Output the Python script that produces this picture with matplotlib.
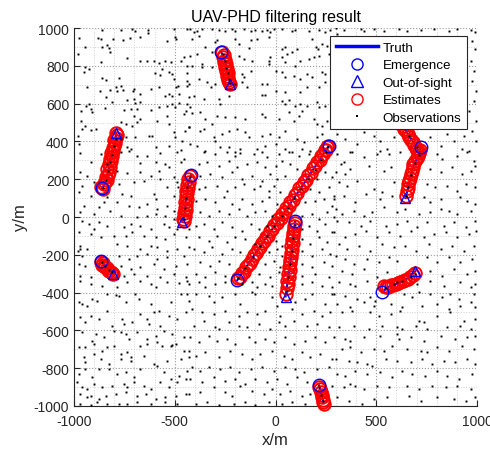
import matplotlib
matplotlib.use("Agg")
import matplotlib.pyplot as plt
from matplotlib.lines import Line2D
from matplotlib.ticker import MultipleLocator
import numpy as np

plt.rcParams["font.family"] = ["Liberation Sans", "DejaVu Sans"]
plt.rcParams["axes.unicode_minus"] = False

# clutter observations (x, y in metres)
clutter = [
    (-860, 989), (-769, 989), (-711, 995), (-698, 982), (-633, 989), (-633, 972), (-504, 995), (-499, 954),
    (-438, 995), (-976, 947), (-882, 947), (-868, 942), (-805, 942), (-756, 936), (-723, 947), (-670, 950),
    (-537, 929), (-496, 942), (-943, 901), (-863, 898), (-835, 912), (-827, 894), (-822, 871), (-979, 862),
    (-739, 841), (-670, 823), (-640, 823), (-604, 823), (-579, 813), (-546, 823), (-521, 818), (-471, 823),
    (-455, 848), (-868, 818), (-438, 801), (-943, 795), (-926, 783), (-948, 769), (-562, 783), (-599, 760),
    (-571, 753), (-529, 765), (-513, 756), (-438, 760), (-860, 733), (-843, 725), (-777, 735), (-934, 689),
    (-872, 665), (-794, 686), (-769, 695), (-819, 672), (-786, 665), (-756, 672), (-706, 665), (-670, 653),
    (-620, 679), (-579, 688), (-546, 642), (-529, 651), (-513, 642), (-480, 651), (-485, 695), (-438, 695),
    (-438, 721), (-504, 730), (-496, 689), (-703, 677), (-843, 636), (-810, 606), (-736, 619), (-703, 624),
    (-695, 601), (-673, 610), (-926, 598), (-918, 571), (-938, 589), (-910, 554), (-967, 562), (-848, 576),
    (-753, 566), (-719, 571), (-686, 571), (-620, 566), (-579, 580), (-537, 589), (-513, 598), (-499, 580),
    (-480, 601), (-455, 545), (-446, 562), (-438, 598), (-703, 536), (-670, 518), (-686, 501), (-769, 501),
    (-744, 492), (-711, 483), (-967, 509), (-959, 465), (-943, 483), (-918, 460), (-893, 465), (-587, 509),
    (-537, 536), (-529, 492), (-504, 448), (-501, 421), (-451, 456), (-430, 474), (-979, 428), (-976, 386),
    (-769, 412), (-744, 421), (-695, 421), (-736, 369), (-719, 361), (-628, 428), (-612, 428), (-595, 369),
    (-529, 378), (-463, 404), (-471, 352),
    (-422, 995), (-406, 977), (-389, 986), (-381, 959), (-364, 995), (-315, 995), (-282, 989), (-252, 982),
    (-215, 995), (-199, 986), (-158, 995), (-124, 982), (-100, 989), (-67, 986), (-42, 989), (-25, 977),
    (-9, 995), (33, 995), (82, 982), (96, 989), (165, 986), (215, 989), (248, 977), (272, 989),
    (-414, 942), (-348, 898), (-298, 924), (-290, 936), (-199, 942), (-182, 915), (-133, 894), (-124, 936),
    (-91, 942), (-33, 950), (33, 889), (49, 901), (57, 862), (82, 871), (107, 889), (182, 942),
    (201, 901), (211, 889), (231, 915), (256, 906), (-422, 853), (-389, 862), (-315, 871), (-182, 853),
    (-158, 836), (-116, 827), (-33, 827), (-25, 845), (33, 845), (49, 818), (99, 801), (124, 827),
    (165, 836), (190, 845), (215, 853), (264, 862), (-414, 801), (-364, 809), (-364, 795), (-315, 792),
    (-166, 756), (-158, 739), (-124, 774), (-33, 809), (0, 774), (33, 765), (49, 742), (91, 748),
    (124, 730), (157, 756), (182, 739), (231, 765), (248, 756), (-430, 703), (-381, 730), (-339, 712),
    (-318, 686), (-298, 703), (-199, 703), (-166, 712), (-141, 686), (-67, 703), (-42, 703), (0, 668),
    (49, 659), (124, 659), (157, 686), (215, 686), (248, 712), (281, 668), (-430, 633), (-406, 642),
    (-356, 624), (-282, 624), (-273, 598), (-232, 642), (-67, 647), (-50, 647), (33, 615), (49, 598),
    (66, 619), (99, 589), (124, 598), (157, 589), (206, 606), (215, 580), (248, 589), (281, 562),
    (-422, 580), (-414, 548), (-373, 554), (-348, 518), (-315, 492), (-290, 536), (-249, 527), (-199, 527),
    (-149, 518), (-67, 545), (-50, 527), (16, 518), (66, 554), (91, 509), (115, 536), (132, 562),
    (190, 518), (206, 492), (231, 483), (256, 509), (-430, 474), (-373, 456), (-356, 465), (-306, 421),
    (-265, 439), (-232, 456), (-191, 465), (-149, 448), (-133, 421), (-67, 430), (-25, 439), (16, 421),
    (49, 456), (107, 412), (140, 395), (206, 421), (231, 439), (-422, 386), (-389, 377), (-348, 351),
    (-298, 404), (-273, 368), (-232, 368), (-199, 342), (-174, 361), (-91, 361), (-50, 377), (0, 386),
    (49, 361), (82, 342), (132, 361), (173, 351),
    (298, 1000), (339, 989), (422, 995), (438, 982), (488, 995), (538, 986), (612, 995), (653, 982),
    (720, 989), (786, 995), (860, 986), (901, 995), (968, 989), (990, 977), (306, 968), (976, 933),
    (990, 889), (968, 827), (985, 774), (976, 721), (995, 668), (984, 615), (959, 562), (995, 509),
    (976, 456), (995, 404), (959, 351), (306, 439), (347, 412), (405, 386), (438, 448), (488, 430),
    (521, 404), (554, 359), (587, 421), (769, 421), (819, 377), (852, 439), (885, 404), (935, 430),
    (926, 359), (372, 342), (505, 333), (278, 880), (281, 668),
    (-968, 339), (-868, 334), (-769, 342), (-728, 351), (-686, 325), (-637, 321), (-571, 339), (-488, 342),
    (-455, 307), (-918, 289), (-835, 281), (-670, 286), (-595, 289), (-546, 281), (-529, 263), (-471, 289),
    (-971, 237), (-934, 219), (-786, 245), (-736, 233), (-670, 237), (-620, 219), (-579, 245), (-504, 210),
    (-959, 166), (-901, 184), (-777, 175), (-703, 184), (-653, 192), (-571, 201), (-537, 157), (-488, 184),
    (-485, 157), (-976, 131), (-918, 113), (-835, 104), (-761, 122), (-719, 113), (-604, 122), (-595, 95),
    (-504, 113), (-951, 60), (-877, 51), (-852, 78), (-786, 78), (-728, 60), (-678, 51), (-637, 69),
    (-587, 42), (-537, 60), (-504, 34), (-968, 25), (-901, 16), (-819, 34), (-769, 7), (-686, -2),
    (-637, 7), (-595, 16), (-546, 7), (-504, -10), (-959, -19), (-926, -37), (-901, -63), (-877, -28),
    (-835, -46), (-753, -55), (-719, -37), (-670, -46), (-620, -63), (-554, -37), (-529, -55), (-488, -63),
    (-430, -63), (-976, -81), (-918, -90), (-868, -107), (-802, -99), (-744, -99), (-711, -81), (-653, -99),
    (-595, -107), (-546, -116), (-504, -90), (-446, -107), (-968, -152), (-934, -169), (-786, -143), (-736, -152),
    (-670, -169), (-620, -152), (-587, -160), (-537, -178), (-488, -169), (-430, -160), (-981, -178), (-971, -169),
    (-959, -204), (-777, -204), (-728, -222), (-686, -204), (-637, -196), (-587, -222), (-537, -213), (-455, -204),
    (-976, -249), (-943, -257), (-769, -257), (-719, -275), (-670, -266), (-604, -249), (-554, -275), (-496, -257),
    (-438, -249), (-968, -310), (-918, -319), (-753, -310), (-703, -302), (-637, -310), (-571, -319), (-504, -302),
    (-446, -319),
    (-356, 342), (-298, 334), (-240, 346), (-199, 325), (-174, 339), (-108, 334), (-67, 342), (-42, 316),
    (16, 334), (66, 342), (115, 325), (165, 334), (-381, 281), (-339, 289), (-282, 272), (-232, 298),
    (-191, 263), (-141, 281), (-91, 289), (-50, 263), (0, 272), (33, 298), (74, 281), (107, 254),
    (-373, 219), (-323, 228), (-265, 210), (-215, 237), (-166, 201), (-116, 219), (-67, 192), (-25, 228),
    (8, 201), (49, 219), (206, 201), (248, 237), (281, 210), (-381, 148), (-348, 157), (-290, 166),
    (-240, 140), (-199, 157), (-158, 175), (-108, 148), (-75, 166), (-33, 140), (-9, 166), (24, 131),
    (173, 148), (215, 131), (264, 157), (289, 113), (-397, 87), (-348, 95), (-298, 78), (-257, 104),
    (-215, 69), (-166, 95), (-116, 69), (-67, 87), (-33, 104), (8, 69), (148, 78), (198, 87),
    (239, 95), (281, 60), (-373, 25), (-331, 7), (-282, 34), (-232, 16), (-182, 42), (-141, 7),
    (-100, 25), (-50, 34), (-17, 7), (132, 7), (182, 16), (215, -10), (256, 25), (289, -2),
    (-397, -46), (-356, -37), (-306, -63), (-265, -28), (-215, -55), (-166, -72), (-124, -37), (-83, -63),
    (-42, -46), (132, -63), (165, -46), (206, -72), (248, -37), (281, -81), (-381, -107), (-331, -125),
    (-290, -99), (-240, -134), (-199, -107), (-149, -116), (-100, -143), (0, -125), (33, -152), (132, -116),
    (173, -143), (215, -107), (256, -134), (-406, -169), (-356, -187), (-315, -160), (-265, -196), (-215, -169),
    (-174, -187), (-33, -187), (8, -169), (33, -204), (132, -178), (182, -204), (231, -169), (272, -196),
    (-373, -240), (-323, -257), (-282, -231), (-232, -249), (-50, -249), (-9, -231), (24, -266), (132, -249),
    (182, -266), (239, -240), (281, -257), (-397, -302), (-348, -319), (-298, -293), (-249, -310), (-83, -302),
    (-25, -319), (16, -293), (132, -310), (198, -302), (264, -319),
    (306, 334), (339, 289), (323, 281), (381, 342), (438, 316), (521, 351), (562, 334), (620, 342),
    (802, 334), (827, 307), (902, 325), (951, 342), (984, 298), (298, 237), (347, 228), (372, 254),
    (463, 272), (538, 245), (571, 263), (769, 254), (819, 237), (877, 263), (926, 228), (968, 245),
    (992, 272), (314, 184), (356, 166), (405, 192), (488, 148), (529, 131), (587, 184), (753, 175),
    (794, 157), (852, 166), (902, 140), (943, 175), (992, 157), (290, 95), (339, 113), (397, 78),
    (447, 122), (521, 95), (579, 113), (736, 104), (769, 78), (819, 95), (860, 34), (918, 104),
    (951, 87), (992, 69), (298, 42), (331, 16), (389, 34), (438, 7), (480, 25), (538, 51),
    (604, 25), (645, 42), (711, 16), (769, 25), (819, 42), (902, 16), (968, 34), (306, -19),
    (364, -28), (422, -46), (471, -19), (546, -46), (604, -37), (653, -19), (703, -55), (753, -28),
    (835, -46), (885, -28), (943, -55), (992, -19), (290, -81), (347, -107), (397, -90), (447, -72),
    (505, -107), (562, -81), (620, -99), (670, -72), (736, -107), (786, -90), (844, -81), (902, -107),
    (959, -90), (995, -72), (314, -143), (356, -169), (414, -152), (471, -178), (529, -143), (587, -160),
    (645, -152), (695, -178), (761, -143), (819, -169), (877, -152), (935, -178), (984, -152), (298, -204),
    (347, -222), (389, -249), (455, -222), (513, -240), (562, -213), (604, -231), (753, -213), (802, -240),
    (860, -213), (918, -240), (976, -222), (331, -284), (381, -302), (438, -275), (505, -319), (554, -293),
    (769, -284), (827, -310), (885, -275), (951, -302), (992, -284),
    (-968, -337), (-918, -354), (-860, -363), (-786, -372), (-736, -346), (-670, -337), (-620, -354), (-595, -372),
    (-537, -346), (-480, -349), (-438, -337), (-976, -451), (-959, -460), (-934, -469), (-910, -434), (-885, -443),
    (-835, -407), (-794, -413), (-777, -416), (-744, -451), (-695, -407), (-678, -434), (-620, -460), (-604, -504),
    (-579, -496), (-521, -451), (-471, -407), (-438, -407), (-430, -443), (-968, -531), (-943, -557), (-918, -522),
    (-877, -540), (-835, -496), (-761, -540), (-753, -566), (-711, -557), (-670, -513), (-637, -540), (-628, -566),
    (-571, -575), (-529, -522), (-488, -540), (-446, -504), (-959, -610), (-910, -654), (-893, -619), (-852, -637),
    (-810, -575), (-802, -601), (-769, -610), (-744, -619), (-728, -646), (-686, -610), (-637, -646), (-595, -628),
    (-554, -601), (-513, -619), (-455, -637), (-976, -690), (-943, -690), (-901, -672), (-860, -707), (-835, -690),
    (-802, -681), (-769, -725), (-736, -716), (-719, -743), (-670, -681), (-637, -672), (-587, -663), (-562, -681),
    (-521, -681), (-513, -677), (-496, -672), (-455, -707), (-951, -743), (-943, -765), (-901, -725), (-868, -751),
    (-827, -778), (-769, -751), (-719, -760), (-653, -734), (-604, -778), (-537, -760), (-471, -751), (-430, -743),
    (-976, -831), (-943, -804), (-910, -848), (-877, -804), (-827, -804), (-786, -831), (-744, -822), (-703, -848),
    (-670, -804), (-587, -787), (-554, -822), (-521, -857), (-480, -840), (-438, -813), (-984, -875), (-959, -901),
    (-934, -910), (-901, -884), (-860, -901), (-810, -892), (-753, -884), (-736, -901), (-703, -875), (-653, -892),
    (-620, -910), (-571, -875), (-529, -901), (-488, -875), (-446, -857), (-968, -937), (-934, -954), (-918, -945),
    (-877, -963), (-843, -945), (-794, -937), (-744, -928), (-686, -945), (-645, -937), (-595, -963), (-546, -954),
    (-496, -945), (-446, -937), (-968, -990), (-918, -995), (-885, -981), (-835, -990), (-777, -990), (-736, -990),
    (-686, -981), (-620, -990), (-546, -981), (-488, -990),
    (-430, -354), (-381, -346), (-348, -372), (-298, -354), (-249, -346), (-166, -354), (-116, -346), (-91, -372),
    (-50, -354), (-17, -363), (132, -354), (182, -346), (231, -363), (281, -372), (-397, -407), (-331, -416),
    (-306, -451), (-265, -425), (-199, -407), (-174, -460), (-116, -399), (-100, -407), (-17, -425), (8, -469),
    (99, -451), (148, -434), (182, -407), (248, -460), (281, -407), (-414, -487), (-364, -504), (-306, -513),
    (-249, -496), (-182, -522), (-141, -504), (-91, -513), (-50, -496), (24, -522), (82, -487), (132, -513),
    (190, -496), (231, -522), (272, -504), (-406, -575), (-356, -549), (-298, -584), (-282, -593), (-232, -557),
    (-182, -575), (-141, -584), (-83, -566), (-25, -593), (16, -557), (49, -575), (91, -549), (157, -575),
    (206, -566), (264, -584), (-422, -637), (-381, -663), (-331, -628), (-290, -654), (-240, -646), (-199, -672),
    (-133, -637), (-100, -663), (-50, -646), (-9, -663), (49, -637), (91, -672), (148, -654), (198, -637),
    (248, -663), (-430, -707), (-397, -734), (-348, -716), (-282, -743), (-224, -707), (-166, -725), (-116, -751),
    (-75, -725), (-17, -707), (41, -734), (82, -751), (132, -716), (173, -743), (223, -725), (281, -751),
    (-414, -795), (-373, -813), (-331, -795), (-273, -804), (-224, -795), (-182, -822), (-124, -804), (-67, -795),
    (-9, -813), (49, -795), (99, -804), (140, -822), (206, -804), (264, -795), (-422, -857), (-364, -875),
    (-306, -848), (-249, -866), (-199, -857), (-149, -884), (-100, -857), (-42, -875), (8, -857), (57, -884),
    (107, -848), (157, -875), (-430, -937), (-373, -928), (-306, -901), (-249, -928), (-215, -945), (-174, -892),
    (-116, -919), (-58, -937), (-17, -910), (24, -937), (74, -919), (132, -945), (173, -937), (-397, -990),
    (-339, -981), (-282, -995), (-207, -990), (-149, -981), (-100, -995), (-33, -981), (33, -990), (82, -981),
    (148, -990),
    (314, -346), (372, -354), (397, -363), (455, -337), (604, -346), (703, -354), (769, -337), (835, -363),
    (918, -346), (968, -372), (992, -354), (290, -407), (347, -416), (405, -434), (471, -425), (496, -443),
    (637, -407), (678, -425), (711, -399), (769, -407), (827, -425), (868, -407), (910, -434), (984, -407),
    (306, -460), (372, -478), (438, -451), (488, -469), (571, -460), (629, -478), (728, -469), (802, -460),
    (860, -487), (918, -469), (968, -451), (992, -478), (331, -504), (381, -496), (471, -504), (513, -522),
    (571, -513), (620, -496), (711, -549), (736, -557), (802, -522), (868, -504), (935, -549), (992, -540),
    (314, -584), (389, -575), (463, -593), (529, -575), (604, -584), (629, -593), (695, -575), (753, -593),
    (852, -584), (918, -575), (968, -593), (290, -637), (347, -646), (372, -654), (438, -637), (521, -628),
    (604, -619), (612, -646), (670, -637), (736, -654), (819, -628), (893, -646), (951, -637), (992, -628),
    (331, -698), (372, -690), (422, -716), (488, -698), (538, -707), (579, -681), (653, -698), (720, -707),
    (753, -716), (802, -690), (860, -707), (926, -681), (984, -698), (298, -751), (364, -760), (405, -769),
    (455, -778), (480, -787), (546, -751), (604, -760), (670, -769), (728, -751), (777, -778), (835, -760),
    (893, -769), (951, -751), (992, -778), (306, -831), (347, -840), (397, -813), (455, -831), (521, -822),
    (579, -848), (629, -813), (678, -831), (744, -840), (802, -813), (852, -840), (910, -857), (976, -831),
    (281, -892), (339, -901), (372, -884), (397, -892), (438, -910), (505, -892), (562, -901), (653, -892),
    (711, -910), (777, -892), (844, -901), (902, -892), (968, -910), (306, -954), (364, -972), (430, -990),
    (488, -963), (554, -954), (662, -945), (720, -972), (802, -954), (885, -963), (943, -972), (992, -954),
]

# target-originated observations along the tracks
track_obs = [
    (-262, 860), (-252, 825), (-244, 790), (-238, 760), (-232, 730), (-226, 710),
    (-858, 155), (-842, 195), (-830, 245), (-822, 290), (-812, 330), (-800, 375), (-794, 415),
    (-425, 210), (-438, 160), (-444, 100), (-447, 45), (-455, -10),
    (-862, -240), (-845, -260), (-825, -280), (-810, -292),
    (-185, -325), (-150, -272), (-110, -210), (-75, -155), (-40, -100), (-5, -48), (30, 5), (60, 50),
    (90, 100), (125, 150), (160, 200), (195, 250), (225, 300), (250, 345), (262, 368),
    (95, -40), (87, -110), (80, -180), (72, -250), (64, -320), (56, -390),
    (630, 480), (665, 430), (700, 370), (712, 330), (690, 285), (672, 220), (660, 160), (648, 110),
    (545, -375), (590, -355), (630, -340), (670, -318), (690, -300),
    (218, -900), (228, -940), (236, -975),
]

# ground truth tracks (waypoints)
truth_tracks = [
    [(-268, 870), (-252, 830), (-242, 780), (-232, 735), (-225, 705)],
    [(-860, 150), (-840, 190), (-828, 250), (-818, 310), (-802, 360), (-795, 400), (-790, 440)],
    [(-420, 220), (-435, 170), (-442, 110), (-448, 50), (-455, -5), (-464, -25)],
    [(-868, -235), (-850, -255), (-830, -275), (-808, -297)],
    [(-190, -335), (-60, -130), (40, 20), (140, 175), (265, 378)],
    [(97, -22), (88, -100), (78, -200), (66, -300), (50, -420)],
    [(620, 505), (650, 450), (685, 395), (712, 345)],
    [(723, 369), (708, 320), (685, 275), (668, 200), (655, 140), (645, 100)],
    [(531, -397), (560, -370), (610, -350), (655, -325), (693, -288)],
    [(215, -890), (228, -935), (238, -985)],
]

emergence = [(-268, 872), (-860, 152), (-418, 222), (-868, -233), (-190, -335),
             (265, 378), (99, -19), (723, 369), (531, -397), (215, -889)]
out_of_sight = [(-225, 703), (-790, 442), (-466, -26), (-806, -300), (50, -422),
                (645, 99), (693, -284)]

est_x = [
    -265, -258, -262, -252, -256, -247, -250, -243, -246, -238, -241, -234, -236, -230, -228,
    -858, -866, -850, -845, -838, -842, -832, -826, -834, -822, -828, -818, -822, -812, -815,
    -805, -808, -800, -796, -800, -792, -788, -793,
    -425, -432, -428, -438, -434, -442, -437, -445, -440, -448, -443, -451, -446, -454, -450, -458, -455,
    -866, -858, -862, -850, -845, -838, -832, -826, -818, -812, -808,
    -185, -175, -168, -155, -148, -135, -128, -115, -108, -95, -88, -75, -68, -55, -48, -35,
    -28, -15, -8, 5, 12, 25, 32, 45, 52, 65, 72, 85, 95, 108, 118, 130, 140, 152, 162, 175,
    185, 198, 208, 220, 228, 238, 245, 252, 258, 262,
    95, 90, 93, 86, 89, 82, 85, 79, 81, 75, 78, 71, 74, 67, 70, 63, 65, 58, 61, 55, 52,
    625, 632, 640, 648, 656, 664, 672, 680, 688, 696, 704, 712,
    718, 712, 706, 700, 692, 684, 680, 676, 672, 668, 664, 660, 656, 652, 648,
    538, 548, 560, 572, 584, 596, 608, 620, 632, 644, 656, 668, 680, 690,
    218, 222, 226, 229, 232, 235, 238, 240,
]
est_y = [
    872, 858, 845, 832, 820, 808, 796, 784, 772, 760, 748, 736, 724, 714, 706,
    148, 160, 172, 184, 196, 210, 224, 238, 252, 266, 280, 294, 308, 322, 336,
    350, 364, 378, 392, 406, 420, 432, 442,
    215, 200, 185, 170, 155, 140, 125, 110, 95, 80, 65, 50, 35, 20, 5, -10, -22,
    -238, -245, -255, -258, -266, -272, -278, -284, -290, -296, -300,
    -322, -316, -298, -289, -266, -254, -242, -224, -202, -192, -170, -160, -138, -128, -108, -98,
    -76, -66, -44, -34, -12, -4, 18, 28, 50, 60, 82, 92, 116, 128, 152, 162, 186, 196, 222, 232,
    258, 268, 293, 302, 325, 331, 352, 356, 372, 374,
    -30, -48, -66, -84, -102, -120, -138, -156, -174, -192, -210, -228, -246, -264, -282,
    -300, -318, -336, -354, -375, -405,
    495, 482, 468, 455, 440, 425, 410, 395, 380, 365, 352, 342,
    355, 340, 325, 310, 295, 280, 262, 244, 226, 208, 190, 172, 154, 136, 112,
    -365, -372, -368, -362, -358, -352, -348, -344, -338, -332, -326, -318, -308, -298,
    -898, -912, -926, -940, -954, -966, -978, -990,
]

fig = plt.figure(figsize=(4.9, 4.52), dpi=100)
ax = fig.add_axes([74 / 490, 1 - 407 / 452, 403 / 490, 378 / 452])

for trk in truth_tracks:
    t = np.array(trk)
    ax.plot(t[:, 0], t[:, 1], "-", color="blue", lw=1.5, zorder=3)
ax.plot(est_x, est_y, "o", ls="none", mfc="none", mec="red", ms=9, mew=1.4,
        zorder=4, clip_on=False)
em = np.array(emergence)
ax.plot(em[:, 0], em[:, 1], "o", ls="none", mfc="none", mec="blue", ms=9, mew=1.0, zorder=5)
oos = np.array(out_of_sight)
ax.plot(oos[:, 0], oos[:, 1], "^", ls="none", mfc="none", mec="blue", ms=7, mew=1.0, zorder=5)
obs = np.array(clutter + track_obs)
ax.plot(obs[:, 0], obs[:, 1], "s", ls="none", color="black", ms=1.4, mew=0, zorder=6)

ax.set_xlim(-1000, 1000)
ax.set_ylim(-1000, 1000)
ax.xaxis.set_major_locator(MultipleLocator(500))
ax.yaxis.set_major_locator(MultipleLocator(200))
ax.xaxis.set_minor_locator(MultipleLocator(100))
ax.yaxis.set_minor_locator(MultipleLocator(100))
ax.grid(which="major", ls=":", color="#9a9a9a", lw=0.8)
ax.grid(which="minor", ls=":", color="#d0d0d0", lw=0.7)
ax.set_axisbelow(True)
ax.tick_params(which="major", direction="in", length=4, labelsize=10, colors="#262626", width=0.8)
ax.tick_params(axis="x", which="major", pad=6)
ax.tick_params(which="minor", length=0)
for s in ["top", "right"]:
    ax.spines[s].set_visible(False)
for s in ["left", "bottom"]:
    ax.spines[s].set_color("#262626")
    ax.spines[s].set_linewidth(0.8)

ax.set_title("UAV-PHD filtering result", fontsize=11.5, pad=5)
ax.set_xlabel("x/m", fontsize=12, color="#262626", labelpad=3)
ax.set_ylabel("y/m", fontsize=12, color="#262626")

handles = [
    Line2D([], [], color="blue", lw=2.5),
    Line2D([], [], marker="o", ls="none", mfc="none", mec="blue", ms=8),
    Line2D([], [], marker="^", ls="none", mfc="none", mec="blue", ms=8),
    Line2D([], [], marker="o", ls="none", mfc="none", mec="red", ms=8),
    Line2D([], [], marker="s", ls="none", color="black", ms=1.6, mew=0),
]
labels = ["Truth", "Emergence", "Out-of-sight", "Estimates", "Observations"]
leg = ax.legend(handles, labels, loc="upper right", bbox_to_anchor=(0.975, 0.978),
                borderaxespad=0, fontsize=9.6, fancybox=False, handlelength=3.2,
                labelspacing=0.38, borderpad=0.4, handletextpad=0.35, framealpha=1)
leg.get_frame().set_edgecolor("#262626")
leg.get_frame().set_linewidth(0.8)
leg.set_zorder(10)

fig.savefig("out.png", dpi=100)
